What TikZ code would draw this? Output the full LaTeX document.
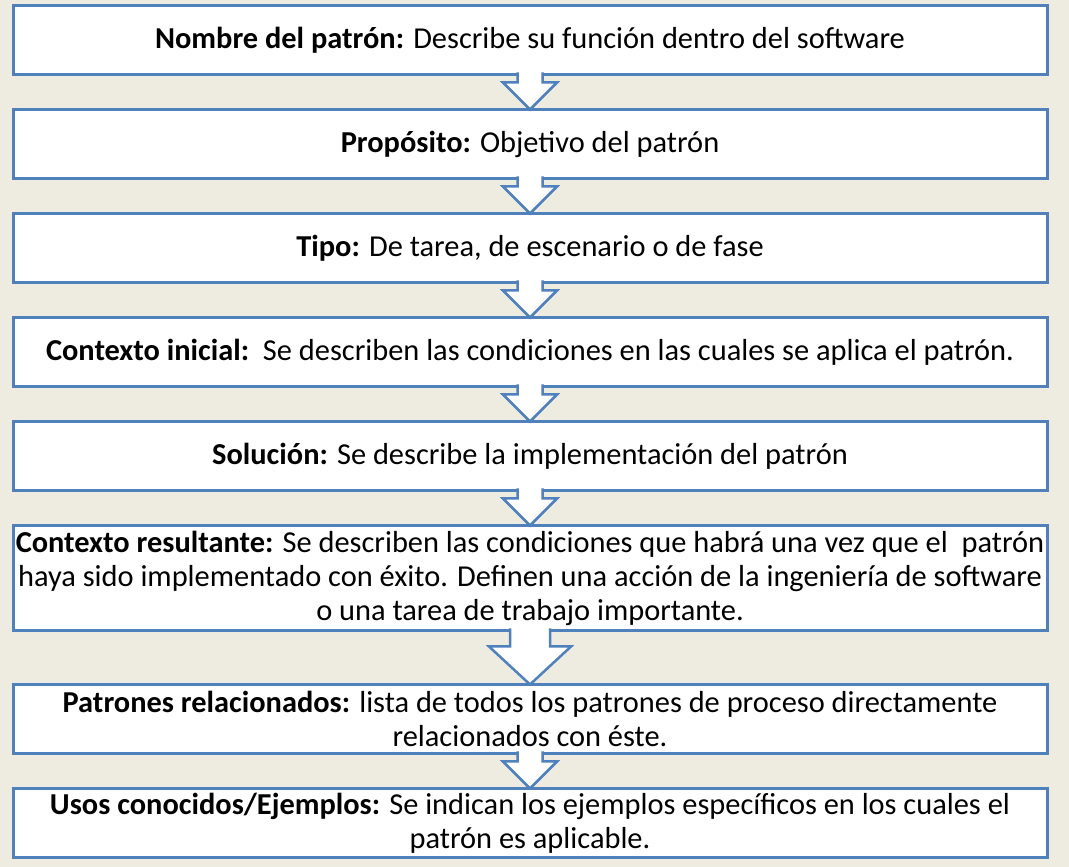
\documentclass[tikz,border=0pt]{standalone}
\usepackage{fontspec}
\setmainfont{Carlito}
\usetikzlibrary{positioning,calc}
\definecolor{boxblue}{HTML}{4F81BD}
\definecolor{slidebg}{HTML}{EEECE1}

\begin{document}
\begin{tikzpicture}[x=1pt, y=1pt, node distance=35pt]
    % Define styles
    \tikzstyle{field} = [rectangle, minimum width=1034pt, minimum height=69pt, inner xsep=0pt, outer sep=0pt, align=center, draw=boxblue, line width=3pt, fill=white, font=\fontsize{30.4}{34}\selectfont]
    \tikzstyle{blockarrow} = [draw=boxblue, line width=2.5pt, fill=white]

    % Background
    \fill [slidebg] (0,0) rectangle (1069,867);
    \useasboundingbox (0,0) rectangle (1069,867);

    % Nodes
    \node [field] (nombre) at (530,827) {\textbf{Nombre del patrón:} Describe su función dentro del software};
    \node [field, below=of nombre] (proposito) {\textbf{Propósito:} Objetivo del patrón};
    \node [field, below=of proposito] (tipo) {\textbf{Tipo:} De tarea, de escenario o de fase};
    \node [field, below=of tipo] (inicial) {\textbf{Contexto inicial:}\ \ Se describen las condiciones en las cuales se aplica el patrón.};
    \node [field, below=of inicial] (solucion) {\textbf{Solución:} Se describe la implementación del patrón};
    \node [field, below=of solucion, minimum height=105pt] (resultante) {\textbf{Contexto resultante:} Se describen las condiciones que habrá una vez que el\ \ patrón\\ haya sido implementado con éxito. Definen una acción de la ingeniería de software\\ o una tarea de trabajo importante.};
    \node [field, below=54pt of resultante] (relacionados) {\textbf{Patrones relacionados:} lista de todos los patrones de proceso directamente\\ relacionados con éste.};
    \node [field, below=of relacionados] (usos) {\textbf{Usos conocidos/Ejemplos:} Se indican los ejemplos específicos en los cuales el\\ patrón es aplicable.};

    % Arrows
    \foreach \a/\b in {nombre/proposito, proposito/tipo, tipo/inicial, inicial/solucion, solucion/resultante, relacionados/usos}
        \draw [blockarrow] ($(\a.south)+(-12.5,2)$) -- ($(\b.north)+(-12.5,27)$) -- ($(\b.north)+(-27,27)$) -- (\b.north) -- ($(\b.north)+(27,27)$) -- ($(\b.north)+(12.5,27)$) -- ($(\a.south)+(12.5,2)$);
    \draw [blockarrow] ($(resultante.south)+(-20,2)$) -- ($(relacionados.north)+(-20,38)$) -- ($(relacionados.north)+(-41,38)$) -- (relacionados.north) -- ($(relacionados.north)+(41,38)$) -- ($(relacionados.north)+(20,38)$) -- ($(resultante.south)+(20,2)$);
\end{tikzpicture}
\end{document}
